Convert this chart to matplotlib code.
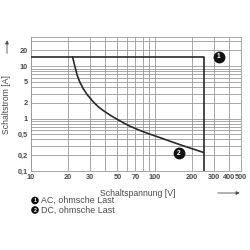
import numpy as np
import matplotlib.pyplot as plt
from matplotlib.ticker import FixedLocator, LogLocator, NullFormatter

plt.rcParams["font.family"] = ["Liberation Sans", "DejaVu Sans"]

# AC, ohmsche Last (1): rectangle boundary
ac_v = [10, 250, 250]
ac_i = [15, 15, 0.1]

# DC, ohmsche Last (2)
dc_v = [21.7, 22.2, 22.8, 23.6, 24.8, 26.5, 28.5, 31.8, 35, 38.3, 44, 49,
        56, 62.8, 78, 95, 110, 140, 180, 250]
dc_i = [15, 12, 9.3, 6.8, 5.0, 3.7, 2.85, 2.1, 1.68, 1.43, 1.15, 0.99,
        0.83, 0.72, 0.58, 0.49, 0.435, 0.355, 0.29, 0.225]

x_ticks = [10, 20, 30, 50, 70, 100, 200, 300, 400, 500]
y_ticks = [0.1, 0.2, 0.5, 1, 2, 5, 10, 20]
y_labels = ["0,1", "0,2", "0,5", "1", "2", "5", "10", "20"]

legend_items = ["AC, ohmsche Last", "DC, ohmsche Last"]
marker_pos = [(330, 15), (157, 0.22)]

grid_c = "#9a9a9a"
line_c = "#2a2a2a"
text_c = "#4a4a4a"

fig = plt.figure(figsize=(2.5, 2.5), dpi=100)
ax = fig.add_axes([0.124, 0.316, 0.84, 0.536])
ax.set_xscale("log")
ax.set_yscale("log")
ax.set_xlim(10, 500)
ax.set_ylim(0.1, 36)

ax.xaxis.set_major_locator(FixedLocator(x_ticks))
ax.xaxis.set_major_formatter(plt.FixedFormatter([str(v) for v in x_ticks]))
ax.xaxis.set_minor_locator(LogLocator(base=10, subs=np.arange(1, 10)))
ax.xaxis.set_minor_formatter(NullFormatter())
ax.yaxis.set_major_locator(FixedLocator(y_ticks))
ax.yaxis.set_major_formatter(plt.FixedFormatter(y_labels))
ax.yaxis.set_minor_locator(LogLocator(base=10, subs=np.arange(1, 10)))
ax.yaxis.set_minor_formatter(NullFormatter())

ax.grid(True, which="both", color=grid_c, linewidth=0.6)
ax.tick_params(which="both", length=0, labelsize=5.3, labelcolor=text_c, pad=2.5)
for lab in ax.get_xticklabels() + ax.get_yticklabels():
    lab.set_fontweight("bold")
for s in ax.spines.values():
    s.set_color(grid_c)
    s.set_linewidth(0.6)

ax.plot(ac_v, ac_i, color=line_c, linewidth=1.2, zorder=3)
ax.plot(dc_v, dc_i, color=line_c, linewidth=1.2, zorder=3)

for n, (mx, my) in enumerate(marker_pos, start=1):
    ax.plot(mx, my, "o", color="#111111", markersize=7.5, zorder=4, clip_on=False)
    ax.text(mx, my, str(n), color="white", fontsize=4.8, fontweight="bold",
            ha="center", va="center", zorder=5)

# axis titles with arrows
fig.text(0.55, 0.228, "Schaltspannung [V]", fontsize=6.2, color=text_c,
         ha="center", va="center")
fig.add_artist(plt.Annotation("", xy=(0.97, 0.228), xytext=(0.86, 0.228),
                              xycoords="figure fraction",
                              arrowprops=dict(arrowstyle="-|>", color=text_c,
                                              lw=0.6, mutation_scale=5)))
fig.text(0.028, 0.58, "Schaltstrom [A]", fontsize=6.2, color=text_c,
         ha="center", va="center", rotation=90)
fig.add_artist(plt.Annotation("", xy=(0.028, 0.85), xytext=(0.028, 0.775),
                              xycoords="figure fraction",
                              arrowprops=dict(arrowstyle="-|>", color=text_c,
                                              lw=0.6, mutation_scale=5)))

# legend
for k, label in enumerate(legend_items):
    y = 0.198 - k * 0.038
    fig.text(0.14, y, str(k + 1), fontsize=3.8, color="white", fontweight="bold",
             ha="center", va="center",
             bbox=dict(boxstyle="circle,pad=0.25", fc="#111111", ec="none"))
    fig.text(0.165, y, label, fontsize=6.4, color=text_c, ha="left", va="center")

fig.savefig("out.png", dpi=100)
